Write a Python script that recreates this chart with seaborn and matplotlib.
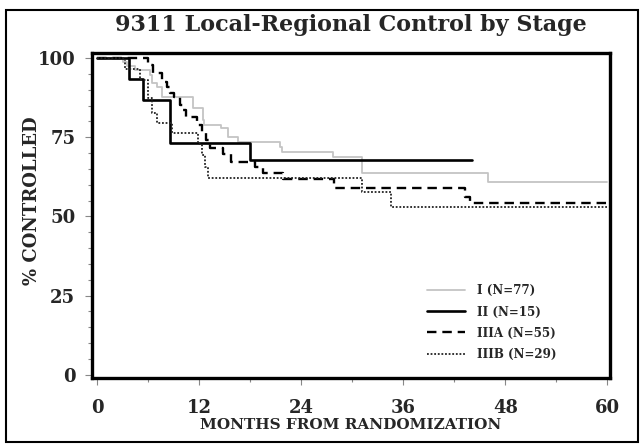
import matplotlib
matplotlib.use("Agg")
import matplotlib.pyplot as plt
from matplotlib.patches import Rectangle
from matplotlib.ticker import MultipleLocator
import seaborn as sns
import pandas as pd

# ---- data ----
months_I = [0, 3.0, 3.5, 4.5, 6.2, 6.5, 7.0, 7.6, 11.3, 12.4, 12.6, 14.6, 15.4, 16.6,
            21.5, 21.7, 27.7, 31.2, 45.9, 60]
ctrl_I = [100, 98.7, 97.4, 96.1, 94.8, 92.2, 90.9, 87.8, 84.2, 80.5, 78.9, 77.9, 75.2, 73.6,
          72.0, 70.4, 68.9, 63.7, 60.9, 60.9]

months_II = [0, 3.7, 5.4, 8.6, 18.0, 44.1]
ctrl_II = [100, 93.3, 86.7, 73.3, 67.8, 67.8]

months_IIIA = [0, 6.0, 6.6, 7.6, 8.2, 8.6, 9.0, 9.7, 10.1, 10.5, 11.7, 12.3, 12.8, 13.3,
               14.8, 15.8, 18.6, 19.5, 21.9, 27.9, 43.2, 43.8, 60]
ctrl_IIIA = [100, 97.8, 95.2, 92.5, 91.0, 89.0, 87.8, 85.2, 83.5, 81.5, 78.9, 76.8, 74.1, 71.5,
             69.8, 67.3, 65.5, 63.6, 61.8, 59.0, 56.0, 54.4, 54.4]

months_IIIB = [0, 3.3, 5.0, 6.0, 6.4, 7.0, 8.8, 11.9, 12.3, 12.7, 13.0, 31.2, 34.6, 60]
ctrl_IIIB = [100, 96.6, 93.1, 87.3, 82.8, 79.5, 76.2, 72.8, 69.4, 65.7, 62.1, 57.7, 53.0, 53.0]

labels = ["I (N=77)", "II (N=15)", "IIIA (N=55)", "IIIB (N=29)"]
x_ticks = [0, 12, 24, 36, 48, 60]
y_ticks = [0, 25, 50, 75, 100]

sns.set_theme(style="white")
plt.rcParams["font.family"] = ["DejaVu Serif"]

fig = plt.figure(figsize=(6.4, 4.45), dpi=100)
W, H = 640, 445
ax = fig.add_axes([92 / W, 1 - 378 / H, (610 - 92) / W, (378 - 53) / H])

series = [
    (months_I, ctrl_I, dict(color="#c4c4c4", linewidth=1.3, linestyle="-")),
    (months_II, ctrl_II, dict(color="black", linewidth=1.9, linestyle="-")),
    (months_IIIA, ctrl_IIIA, dict(color="black", linewidth=1.7, linestyle=(0, (4, 2.5)))),
    (months_IIIB, ctrl_IIIB, dict(color="#222222", linewidth=1.3, linestyle=(0, (1, 1)))),
]
for (m, c, st), lab in zip(series, labels):
    df = pd.DataFrame({"month": m, "ctrl": c})
    sns.lineplot(data=df, x="month", y="ctrl", ax=ax, estimator=None, sort=False,
                 drawstyle="steps-post", label=lab, **st)

ax.set_xlim(-0.6, 60.3)
ax.set_ylim(-1.0, 101.6)
ax.set_xticks(x_ticks)
ax.set_yticks(y_ticks)
ax.xaxis.set_minor_locator(MultipleLocator(6))
ax.yaxis.set_minor_locator(MultipleLocator(5))
ax.tick_params(axis="both", which="both", direction="out", color="#888888", width=0.8)
ax.tick_params(axis="both", which="major", length=5)
ax.tick_params(axis="both", which="minor", length=3)
ax.tick_params(axis="x", which="major", pad=10, labelsize=13)
ax.tick_params(axis="y", which="major", pad=7, labelsize=13)
ax.tick_params(left=True, bottom=True, which="both")
for lab in ax.get_xticklabels() + ax.get_yticklabels():
    lab.set_fontweight("bold")

for sp in ax.spines.values():
    sp.set_visible(True)
    sp.set_color("black")
    sp.set_linewidth(2.4)

ax.set_xlabel("MONTHS FROM RANDOMIZATION", fontsize=11, fontweight="bold", labelpad=1)
ax.set_ylabel("% CONTROLLED", fontsize=13, fontweight="bold")
ax.yaxis.set_label_coords(-0.098, 0.545)
ax.set_title("9311 Local-Regional Control by Stage", fontsize=16, fontweight="bold", pad=16)

leg = ax.legend(loc="lower right", bbox_to_anchor=(0.918, 0.02), frameon=False,
                prop={"family": "DejaVu Serif", "weight": "bold", "size": 8.6},
                handlelength=3.2, handletextpad=1.0, labelspacing=0.68)

fig.patches.append(Rectangle((6 / W, 1 - 442 / H), (638 - 6) / W, (442 - 10) / H,
                             transform=fig.transFigure, fill=False, edgecolor="black",
                             linewidth=1.5))

fig.savefig("out.png", dpi=100)
